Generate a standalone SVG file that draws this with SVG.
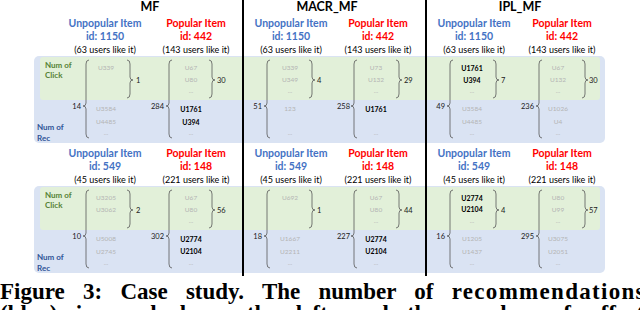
<svg xmlns="http://www.w3.org/2000/svg" width="640" height="310" viewBox="0 0 640 310">
<style>
.t{font-family:Lato,"Liberation Sans",sans-serif;font-weight:bold;font-size:12.5px;fill:#000;text-anchor:middle}
.hu{font-family:Lato,"Liberation Sans",sans-serif;font-weight:bold;font-size:10.5px;fill:#4472C4;text-anchor:middle}
.hp{font-family:Lato,"Liberation Sans",sans-serif;font-weight:bold;font-size:10.5px;fill:#FF0000;text-anchor:middle}
.hc{font-family:Lato,"Liberation Sans",sans-serif;font-size:9px;fill:#000;text-anchor:middle}
.lg{font-family:Lato,"Liberation Sans",sans-serif;font-weight:bold;font-size:8px;fill:#548235}
.lb{font-family:Lato,"Liberation Sans",sans-serif;font-weight:bold;font-size:8px;fill:#2F5597}
.g{font-family:Lato,"Liberation Sans",sans-serif;font-size:6.5px;fill:#B4B4B4;text-anchor:middle}
.k{font-family:Lato,"Liberation Sans",sans-serif;font-weight:bold;font-size:7px;fill:#000;text-anchor:middle}
.n{font-family:Lato,"Liberation Sans",sans-serif;font-size:7.5px;fill:#1a1a1a}
.ne{text-anchor:end}
.br{fill:none;stroke:#595959;stroke-width:0.8}
.div{stroke:#000;stroke-width:2}
.cap{font-family:"Liberation Serif",serif;font-weight:bold;font-size:23px;fill:#000;word-spacing:12.5px}
</style>
<defs>
<path id="bigL" d="M6,-46 Q3,-46 3,-42 L3,-3 Q3,0 0,0 Q3,0 3,3 L3,28 Q3,32 6,32"/>
<path id="smR" d="M-3,-20 Q0,-20 0,-16 L0,-3 Q0,0 3,0 Q0,0 0,3 L0,14 Q0,18 -3,18"/>
</defs>

<g id="panels">
<rect x="34" y="56" width="571" height="87" rx="5" fill="#DAE3F3"/>
<rect x="40" y="57" width="560" height="43" rx="3" fill="#E2F0D9"/>
<rect x="34" y="186" width="571" height="87" rx="5" fill="#DAE3F3"/>
<rect x="40" y="187" width="560" height="43" rx="3" fill="#E2F0D9"/>
</g>

<g id="dividers">
<line class="div" x1="243" y1="0" x2="243" y2="276"/>
<line class="div" x1="426" y1="0" x2="426" y2="276"/>
</g>

<g id="titles">
<text class="t" x="150" y="11">MF</text>
<text class="t" x="327" y="11">MACR_MF</text>
<text class="t" x="520" y="11">IPL_MF</text>
</g>

<g id="axis-labels">
<text class="lg" x="45" y="68">Num of</text>
<text class="lg" x="45" y="78">Click</text>
<text class="lb" x="37" y="130">Num of</text>
<text class="lb" x="37" y="141">Rec</text>
<text class="lg" x="45" y="198">Num of</text>
<text class="lg" x="45" y="208">Click</text>
<text class="lb" x="37" y="260">Num of</text>
<text class="lb" x="37" y="271">Rec</text>
</g>

<g id="mf-unpop-1150">
<text class="hu" x="105" y="27">Unpopular Item</text>
<text class="hu" x="105" y="40">id: 1150</text>
<text class="hc" x="105" y="53">(63 users like it)</text>
<use href="#bigL" class="br" x="83" y="106"/>
<use href="#smR" class="br" x="130" y="80"/>
<text class="n ne" x="81" y="109">14</text>
<text class="n" x="136" y="83">1</text>
<text class="g" x="106" y="70">U339</text>
<text class="g" x="106" y="111">U3584</text>
<text class="g" x="106" y="124">U4485</text>
<text class="g" x="106" y="135">...</text>
</g>

<g id="mf-pop-442">
<text class="hp" x="196" y="27">Popular Item</text>
<text class="hp" x="196" y="40">id: 442</text>
<text class="hc" x="196" y="53">(143 users like it)</text>
<use href="#bigL" class="br" x="166" y="106"/>
<use href="#smR" class="br" x="212" y="80"/>
<text class="n ne" x="164" y="109">284</text>
<text class="n" x="217" y="83">30</text>
<text class="g" x="191" y="70">U67</text>
<text class="g" x="191" y="82">U80</text>
<text class="g" x="191" y="93">...</text>
<text class="k" x="191" y="112">U1761</text>
<text class="k" x="191" y="125">U394</text>
<text class="g" x="191" y="135">...</text>
</g>

<g id="macr-unpop-1150">
<text class="hu" x="291" y="27">Unpopular Item</text>
<text class="hu" x="291" y="40">id: 1150</text>
<text class="hc" x="291" y="53">(63 users like it)</text>
<use href="#bigL" class="br" x="264" y="106"/>
<use href="#smR" class="br" x="312" y="80"/>
<text class="n ne" x="262" y="109">51</text>
<text class="n" x="317" y="83">4</text>
<text class="g" x="290" y="70">U339</text>
<text class="g" x="290" y="82">U349</text>
<text class="g" x="290" y="93">...</text>
<text class="g" x="290" y="111">123</text>
<text class="g" x="290" y="135">...</text>
</g>

<g id="macr-pop-442">
<text class="hp" x="378" y="27">Popular Item</text>
<text class="hp" x="378" y="40">id: 442</text>
<text class="hc" x="378" y="53">(143 users like it)</text>
<use href="#bigL" class="br" x="351" y="106"/>
<use href="#smR" class="br" x="399" y="80"/>
<text class="n ne" x="350" y="109">258</text>
<text class="n" x="404" y="83">29</text>
<text class="g" x="376" y="70">U73</text>
<text class="g" x="376" y="82">U132</text>
<text class="g" x="376" y="93">...</text>
<text class="k" x="376" y="112">U1761</text>
<text class="g" x="376" y="135">...</text>
</g>

<g id="ipl-unpop-1150">
<text class="hu" x="474" y="27">Unpopular Item</text>
<text class="hu" x="474" y="40">id: 1150</text>
<text class="hc" x="474" y="53">(63 users like it)</text>
<use href="#bigL" class="br" x="447" y="106"/>
<use href="#smR" class="br" x="496" y="80"/>
<text class="n ne" x="445" y="109">49</text>
<text class="n" x="501" y="83">7</text>
<text class="k" x="472" y="71">U1761</text>
<text class="k" x="472" y="83">U394</text>
<text class="g" x="472" y="93">...</text>
<text class="g" x="472" y="111">U3584</text>
<text class="g" x="472" y="124">U4485</text>
<text class="g" x="472" y="135">...</text>
</g>

<g id="ipl-pop-442">
<text class="hp" x="562" y="27">Popular Item</text>
<text class="hp" x="562" y="40">id: 442</text>
<text class="hc" x="562" y="53">(143 users like it)</text>
<use href="#bigL" class="br" x="536" y="106"/>
<use href="#smR" class="br" x="585" y="80"/>
<text class="n ne" x="534" y="109">236</text>
<text class="n" x="589" y="83">30</text>
<text class="g" x="558" y="70">U67</text>
<text class="g" x="558" y="82">U132</text>
<text class="g" x="558" y="93">...</text>
<text class="g" x="558" y="111">U1026</text>
<text class="g" x="558" y="124">U4</text>
<text class="g" x="558" y="135">...</text>
</g>

<g id="mf-unpop-549">
<text class="hu" x="105" y="157">Unpopular Item</text>
<text class="hu" x="105" y="170">id: 549</text>
<text class="hc" x="105" y="183">(45 users like it)</text>
<use href="#bigL" class="br" x="83" y="236"/>
<use href="#smR" class="br" x="130" y="210"/>
<text class="n ne" x="81" y="239">10</text>
<text class="n" x="136" y="213">2</text>
<text class="g" x="106" y="200">U3205</text>
<text class="g" x="106" y="212">U3062</text>
<text class="g" x="106" y="241">U5008</text>
<text class="g" x="106" y="254">U2745</text>
<text class="g" x="106" y="265">...</text>
</g>

<g id="mf-pop-148">
<text class="hp" x="196" y="157">Popular Item</text>
<text class="hp" x="196" y="170">id: 148</text>
<text class="hc" x="196" y="183">(221 users like it)</text>
<use href="#bigL" class="br" x="166" y="236"/>
<use href="#smR" class="br" x="212" y="210"/>
<text class="n ne" x="164" y="239">302</text>
<text class="n" x="217" y="213">56</text>
<text class="g" x="191" y="200">U67</text>
<text class="g" x="191" y="212">U80</text>
<text class="g" x="191" y="223">...</text>
<text class="k" x="191" y="242">U2774</text>
<text class="k" x="191" y="254">U2104</text>
<text class="g" x="191" y="265">...</text>
</g>

<g id="macr-unpop-549">
<text class="hu" x="291" y="157">Unpopular Item</text>
<text class="hu" x="291" y="170">id: 549</text>
<text class="hc" x="291" y="183">(45 users like it)</text>
<use href="#bigL" class="br" x="264" y="236"/>
<use href="#smR" class="br" x="312" y="210"/>
<text class="n ne" x="262" y="239">18</text>
<text class="n" x="317" y="213">1</text>
<text class="g" x="290" y="200">U692</text>
<text class="g" x="290" y="241">U1667</text>
<text class="g" x="290" y="254">U2211</text>
<text class="g" x="290" y="265">...</text>
</g>

<g id="macr-pop-148">
<text class="hp" x="378" y="157">Popular Item</text>
<text class="hp" x="378" y="170">id: 148</text>
<text class="hc" x="378" y="183">(221 users like it)</text>
<use href="#bigL" class="br" x="351" y="236"/>
<use href="#smR" class="br" x="399" y="210"/>
<text class="n ne" x="350" y="239">227</text>
<text class="n" x="404" y="213">44</text>
<text class="g" x="376" y="200">U67</text>
<text class="g" x="376" y="212">U80</text>
<text class="g" x="376" y="223">...</text>
<text class="k" x="376" y="242">U2774</text>
<text class="k" x="376" y="254">U2104</text>
<text class="g" x="376" y="265">...</text>
</g>

<g id="ipl-unpop-549">
<text class="hu" x="474" y="157">Unpopular Item</text>
<text class="hu" x="474" y="170">id: 549</text>
<text class="hc" x="474" y="183">(45 users like it)</text>
<use href="#bigL" class="br" x="447" y="236"/>
<use href="#smR" class="br" x="496" y="210"/>
<text class="n ne" x="445" y="239">16</text>
<text class="n" x="501" y="213">4</text>
<text class="k" x="472" y="201">U2774</text>
<text class="k" x="472" y="212">U2104</text>
<text class="g" x="472" y="223">...</text>
<text class="g" x="472" y="241">U1205</text>
<text class="g" x="472" y="254">U1437</text>
<text class="g" x="472" y="265">...</text>
</g>

<g id="ipl-pop-148">
<text class="hp" x="562" y="157">Popular Item</text>
<text class="hp" x="562" y="170">id: 148</text>
<text class="hc" x="562" y="183">(221 users like it)</text>
<use href="#bigL" class="br" x="536" y="236"/>
<use href="#smR" class="br" x="585" y="210"/>
<text class="n ne" x="534" y="239">295</text>
<text class="n" x="589" y="213">57</text>
<text class="g" x="558" y="200">U80</text>
<text class="g" x="558" y="212">U99</text>
<text class="g" x="558" y="223">...</text>
<text class="g" x="558" y="241">U3075</text>
<text class="g" x="558" y="254">U2051</text>
<text class="g" x="558" y="265">...</text>
</g>

<g id="connectors"></g>

<g id="caption">
<text class="cap" x="0" y="299">Figure 3: Case study. The number of <tspan letter-spacing="1.3">recommendations</tspan></text>
<text class="cap" x="0" y="321">(blue) is marked on the left, and the number of affective clicks (green)</text>
</g>
</svg>
